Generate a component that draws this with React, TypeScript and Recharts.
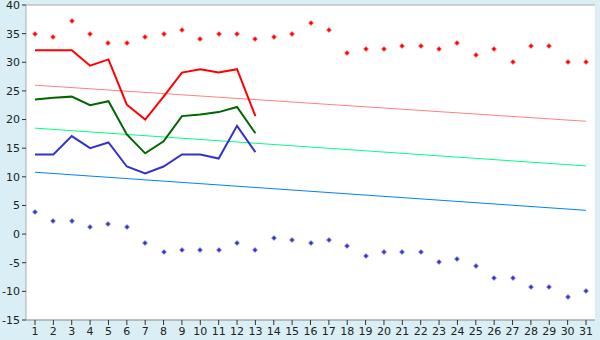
import {
  ComposedChart,
  Line,
  XAxis,
  YAxis,
  CartesianGrid,
  ReferenceLine,
} from "recharts";

const days = ["1", "2", "3", "4", "5", "6", "7", "8", "9", "10", "11", "12", "13", "14", "15", "16",
  "17", "18", "19", "20", "21", "22", "23", "24", "25", "26", "27", "28", "29", "30", "31"];

const maxTemp = [32.1, 32.1, 32.1, 29.4, 30.5, 22.6, 20.0, 24.0, 28.2, 28.8, 28.2, 28.8, 20.6];
const avgTemp = [23.5, 23.8, 24.0, 22.5, 23.2, 17.4, 14.1, 16.2, 20.6, 20.9, 21.3, 22.2, 17.6];
const minTemp = [13.9, 13.9, 17.1, 15.0, 16.0, 11.8, 10.6, 11.8, 13.9, 13.9, 13.2, 18.9, 14.3];

const recordHigh = [35, 34.4, 37.2, 35, 33.3, 33.3, 34.4, 35, 35.6, 34.0, 35, 35, 34.0, 34.4, 35,
  36.8, 35.6, 31.7, 32.3, 32.3, 32.8, 32.8, 32.3, 33.3, 31.2, 32.3, 30, 32.8, 32.8, 30, 30];
const recordLow = [3.9, 2.2, 2.2, 1.2, 1.7, 1.2, -1.6, -3.2, -2.8, -2.8, -2.8, -1.6, -2.8, -0.6, -1.1,
  -1.6, -1.1, -2.1, -3.9, -3.2, -3.2, -3.2, -4.9, -4.4, -5.6, -7.7, -7.7, -9.3, -9.3, -11.0, -10.0];

// trend lines: value at first and last day
const maxTrend = [26.0, 19.7];
const avgTrend = [18.5, 11.9];
const minTrend = [10.8, 4.15];

const yTicks = [-15, -10, -5, 0, 5, 10, 15, 20, 25, 30, 35, 40];

const data = days.map((d, i) => ({
  day: d,
  max: maxTemp[i] ?? null,
  avg: avgTemp[i] ?? null,
  min: minTemp[i] ?? null,
  hi: recordHigh[i],
  lo: recordLow[i],
}));

const tickStyle = { fill: "#222", fontSize: 11, fontFamily: "DejaVu Sans" };

function crossDot(color: string) {
  return (p: any) => {
    if (p.cx == null || p.cy == null || p.value == null) return <g key={p.index} />;
    const x = Math.round(p.cx);
    const y = Math.round(p.cy);
    return (
      <g key={p.index} fill={color}>
        <rect x={x - 1.5} y={y - 1.5} width={3} height={3} />
        <rect x={x - 2.5} y={y - 0.5} width={5} height={1} />
        <rect x={x - 0.5} y={y - 2.5} width={1} height={5} />
      </g>
    );
  };
}

function trend(vals: number[]) {
  return [
    { x: days[0], y: vals[0] },
    { x: days[days.length - 1], y: vals[1] },
  ];
}

export default function App() {
  return (
    <div style={{ position: "absolute", left: 0, top: 0, background: "#d9eef5" }}>
      <ComposedChart
        width={600}
        height={340}
        data={data}
        margin={{ top: 5, right: 5, left: 0, bottom: 0 }}
      >
        <CartesianGrid vertical={false} stroke="#aaaaaa" fill="#ffffff" />
        <XAxis
          dataKey="day"
          height={20}
          padding={{ left: 9, right: 9 }}
          tick={tickStyle}
          tickLine={{ stroke: "#333" }}
          tickSize={5}
          axisLine={{ stroke: "#aaaaaa" }}
          interval={0}
        />
        <YAxis
          yAxisId="l"
          width={26}
          domain={[-15, 40]}
          ticks={yTicks}
          tick={tickStyle}
          tickSize={4}
          tickLine={{ stroke: "#333" }}
          axisLine={{ stroke: "#aaaaaa" }}
          interval={0}
        />
        <YAxis
          yAxisId="r"
          orientation="right"
          width={0}
          domain={[-15, 40]}
          tick={false}
          tickLine={false}
          axisLine={{ stroke: "#aaaaaa" }}
        />
        <ReferenceLine yAxisId="l" segment={trend(maxTrend)} stroke="#ff8080" strokeWidth={1} />
        <ReferenceLine yAxisId="l" segment={trend(avgTrend)} stroke="#00ff80" strokeWidth={1} />
        <ReferenceLine yAxisId="l" segment={trend(minTrend)} stroke="#0080ff" strokeWidth={1} />
        <Line yAxisId="l" dataKey="max" stroke="#ff0000" strokeWidth={2} dot={false} isAnimationActive={false} />
        <Line yAxisId="l" dataKey="avg" stroke="#006600" strokeWidth={2} dot={false} isAnimationActive={false} />
        <Line yAxisId="l" dataKey="min" stroke="#3333cc" strokeWidth={2} dot={false} isAnimationActive={false} />
        <Line yAxisId="l" dataKey="hi" stroke="none" dot={crossDot("#ff0000")} activeDot={false} isAnimationActive={false} />
        <Line yAxisId="l" dataKey="lo" stroke="none" dot={crossDot("#3333cc")} activeDot={false} isAnimationActive={false} />
      </ComposedChart>
    </div>
  );
}
